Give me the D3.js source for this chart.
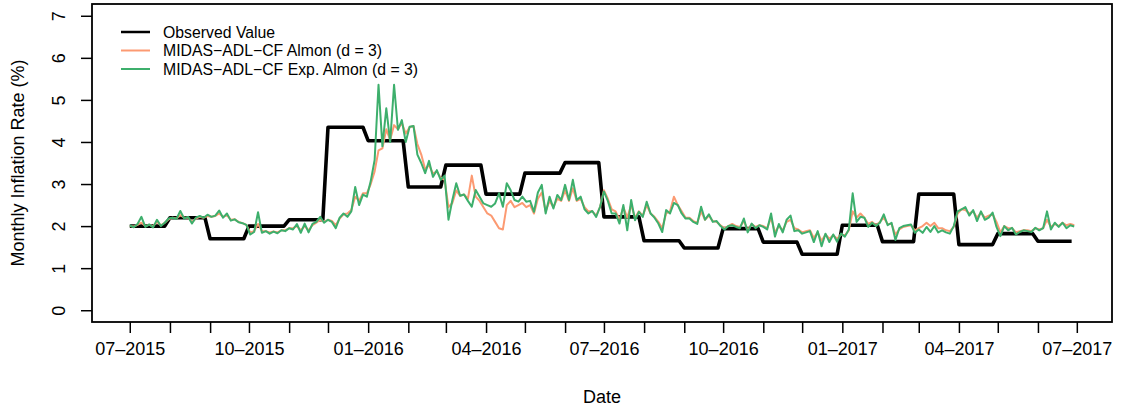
<!DOCTYPE html>
<html><head><meta charset="utf-8">
<script src="https://cdn.jsdelivr.net/npm/d3@7"></script>
<style>
body{margin:0;background:#fff}
svg{display:block}
text{font-family:"Liberation Sans",Arial,Helvetica,sans-serif;fill:#000}
</style>
</head><body>
<svg id="chart" width="1121" height="412"></svg>
<script>
// ---------------- DATA ----------------
const seriesNames = ["Observed Value", "MIDAS\u2212ADL\u2212CF Almon (d = 3)", "MIDAS\u2212ADL\u2212CF Exp. Almon (d = 3)"];
const seriesColors = ["#000000", "#FC9A72", "#3DAF6C"];
const startDate = "2015-07-01";
const forecastStepDays = 3;
// monthly observed inflation, Jul 2015 .. Jun 2017
const observedMonthly = [2.0, 2.2, 1.7, 2.0, 2.15, 4.35, 4.03, 2.93, 3.45, 2.76, 3.26, 3.51,
                         2.22, 1.65, 1.48, 1.94, 1.62, 1.33, 2.02, 1.63, 2.76, 1.56, 1.82, 1.64];
const almonValues = [
 2.0,1.99,2.03,2.08,2.0,2.03,2.0,2.1,2.02,2.08,2.16,2.2,2.18,2.26,2.2,2.2,2.1,2.18,2.22,2.2,2.24,2.22,2.24,2.3,2.22,2.26,2.15,2.16,2.1,2.07,2.03,
 1.85,1.88,2.05,1.88,1.88,1.85,1.87,1.85,1.9,1.9,1.95,1.95,2.0,1.9,2.0,1.9,2.02,2.08,2.15,2.1,2.15,2.12,2.02,2.18,2.28,2.3,2.38,2.7,2.6,2.78,
 2.78,3.0,3.3,3.8,3.85,4.3,4.05,4.4,4.3,4.45,4.2,4.35,4.38,3.95,3.7,3.35,3.45,3.25,3.3,3.15,3.1,2.45,2.55,2.85,2.72,2.75,2.65,3.2,2.7,2.6,
 2.45,2.3,2.25,2.1,1.95,1.92,2.5,2.6,2.45,2.5,2.55,2.45,2.5,2.3,2.65,2.8,2.35,2.6,2.45,2.65,2.6,2.85,2.6,2.9,2.6,2.65,2.45,2.35,2.35,2.25,
 2.45,2.85,2.65,2.4,2.35,2.15,2.45,2.2,2.5,2.2,2.35,2.25,2.5,2.3,2.22,2.1,1.95,2.3,2.35,2.7,2.5,2.35,2.2,2.2,2.12,2.08,2.35,2.15,2.25,2.12,
 2.1,2.02,1.95,2.0,2.05,2.0,1.98,2.12,1.9,2.05,1.98,2.02,2.0,1.95,2.2,1.85,2.0,1.9,2.1,2.15,1.95,1.92,1.85,1.88,1.9,1.72,1.85,1.65,1.8,1.7,
 1.78,1.7,1.8,1.78,1.9,2.35,2.2,2.3,2.2,2.05,2.1,2.02,2.1,2.2,2.05,2.05,1.8,1.92,1.98,2.0,2.02,1.9,1.95,2.0,2.08,2.0,2.08,1.95,1.95,1.9,
 1.88,1.98,2.3,2.4,2.38,2.3,2.35,2.2,2.32,2.2,2.25,2.28,2.1,1.85,2.0,1.95,1.95,1.85,1.88,1.9,1.9,1.88,1.95,1.92,1.95,2.15,1.98,2.05,2.0,2.08,2.02,2.05,2.02
];
const expAlmonValues = [
 2.02,1.97,2.05,2.22,1.98,2.04,1.97,2.15,2.0,2.08,2.18,2.2,2.17,2.36,2.18,2.22,2.06,2.2,2.24,2.2,2.27,2.22,2.25,2.37,2.2,2.3,2.13,2.16,2.09,2.07,2.03,
 1.8,1.86,2.33,1.84,1.88,1.82,1.87,1.83,1.9,1.88,1.95,1.92,2.05,1.84,2.06,1.85,2.05,2.1,2.22,2.08,2.15,2.1,1.95,2.2,2.3,2.22,2.35,2.93,2.5,2.75,
 2.7,3.07,3.57,5.36,3.9,4.8,4.0,5.36,4.29,4.52,4.0,4.36,4.38,3.7,3.5,3.26,3.55,3.17,3.33,3.1,3.2,2.15,2.62,3.02,2.72,2.75,2.6,2.46,2.86,2.7,
 2.54,2.5,2.46,2.54,2.78,2.46,3.02,2.85,2.62,2.58,2.7,2.58,2.6,2.34,2.8,2.98,2.3,2.7,2.42,2.74,2.62,2.98,2.62,3.1,2.62,2.7,2.4,2.3,2.36,2.22,
 2.46,2.82,2.6,2.3,2.3,2.06,2.5,1.9,2.62,2.14,2.34,2.22,2.58,2.3,2.2,2.06,1.86,2.38,2.3,2.55,2.5,2.3,2.18,2.18,2.1,2.05,2.46,2.15,2.28,2.1,
 2.12,2.0,1.92,2.0,2.02,1.98,1.95,2.18,1.85,2.06,1.95,2.02,1.98,1.92,2.3,1.75,2.05,1.85,2.15,2.25,1.88,1.9,1.82,1.85,1.88,1.62,1.88,1.52,1.82,1.62,
 1.8,1.63,1.82,1.75,1.92,2.78,2.1,2.22,2.2,1.98,2.08,2.0,2.08,2.28,2.02,2.08,1.67,1.95,2.0,2.02,2.04,1.84,1.92,1.84,1.98,1.86,2.0,1.85,1.9,1.85,
 1.82,2.0,2.35,2.4,2.45,2.25,2.38,2.12,2.35,2.15,2.2,2.32,1.98,1.76,2.0,1.9,1.96,1.8,1.86,1.9,1.88,1.86,1.96,1.9,1.95,2.35,1.92,2.08,1.98,2.08,1.95,2.02,1.99
];
const yTickValues = [0, 1, 2, 3, 4, 5, 6, 7];
const xTickStart = "2015-07-01", xTickEnd = "2017-07-01";
const xAxisTitle = "Date";
const yAxisTitle = "Monthly Inflation Rate (%)";

// ---------------- LAYOUT ----------------
const box = {left: 92, right: 1112, top: 4, bottom: 322};
const parse = d3.utcParse("%Y-%m-%d");
const t0 = parse(startDate);

const almonPts = almonValues.map((v, i) => [d3.utcDay.offset(t0, i * forecastStepDays), v]);
const expPts = expAlmonValues.map((v, i) => [d3.utcDay.offset(t0, i * forecastStepDays), v]);
const lastDate = expPts[expPts.length - 1][0];

const months = d3.utcMonth.range(t0, d3.utcMonth.offset(t0, observedMonthly.length));
const obsPts = [];
observedMonthly.forEach((v, i) => {
  const s = months[i];
  let e = d3.utcDay.offset(d3.utcMonth.offset(s, 1), -4);
  if (e > lastDate) e = lastDate;
  obsPts.push([s, v], [e, v]);
});

// R-style 4% axis extension
const dMin = t0.getTime(), dMax = lastDate.getTime();
const ext = (dMax - dMin) * 0.04;
const x = d3.scaleUtc().domain([new Date(dMin - ext), new Date(dMax + ext)]).range([box.left, box.right]);
const y = d3.scaleLinear().domain([-0.28, 7.28]).range([box.bottom, box.top]);

const svg = d3.select("#chart");
const line = d3.line().x(d => x(d[0])).y(d => y(d[1]));

const plot = svg.append("g");
plot.append("path").datum(obsPts).attr("d", line).attr("fill", "none")
  .attr("stroke", seriesColors[0]).attr("stroke-width", 3.6).attr("stroke-linejoin", "round");
plot.append("path").datum(almonPts).attr("d", line).attr("fill", "none")
  .attr("stroke", seriesColors[1]).attr("stroke-width", 2).attr("stroke-linejoin", "round");
plot.append("path").datum(expPts).attr("d", line).attr("fill", "none")
  .attr("stroke", seriesColors[2]).attr("stroke-width", 2).attr("stroke-linejoin", "round");

// box
svg.append("rect").attr("x", box.left).attr("y", box.top)
  .attr("width", box.right - box.left).attr("height", box.bottom - box.top)
  .attr("fill", "none").attr("stroke", "#000").attr("stroke-width", 1.8);

// x axis
const monthTicks = d3.utcMonth.range(parse(xTickStart), d3.utcDay.offset(parse(xTickEnd), 1));
const fmt = d3.utcFormat("%m\u2013%Y");
const xAxis = d3.axisBottom(x).tickValues(monthTicks).tickSize(11).tickPadding(9)
  .tickFormat(d => (d.getUTCMonth() % 3 === 0) ? fmt(d) : "");
const gx = svg.append("g").attr("transform", `translate(0,${box.bottom})`).call(xAxis);
gx.select(".domain").remove();
gx.selectAll(".tick line").attr("stroke", "#000").attr("stroke-width", 1.5);
gx.selectAll(".tick text").attr("font-size", 18).attr("font-family", null).attr("fill", "#000");

// y axis
const yAxis = d3.axisLeft(y).tickValues(yTickValues).tickSize(11);
const gy = svg.append("g").attr("transform", `translate(${box.left},0)`).call(yAxis);
gy.select(".domain").remove();
gy.selectAll(".tick line").attr("stroke", "#000").attr("stroke-width", 1.5);
gy.selectAll(".tick text").attr("font-size", 18).attr("font-family", null).attr("fill", "#000")
  .attr("transform", "rotate(-90)").attr("x", 0).attr("y", -27).attr("dy", null)
  .attr("text-anchor", "middle");

// axis titles
svg.append("text").attr("x", (box.left + box.right) / 2).attr("y", 403)
  .attr("text-anchor", "middle").attr("font-size", 18).text(xAxisTitle);
svg.append("text").attr("transform", `translate(24,${(box.top + box.bottom) / 2}) rotate(-90)`)
  .attr("text-anchor", "middle").attr("font-size", 18).text(yAxisTitle);

// legend
const lg = svg.append("g");
seriesNames.forEach((n, i) => {
  const cy = 32 + i * 18.5;
  lg.append("line").attr("x1", 121).attr("x2", 150).attr("y1", cy).attr("y2", cy)
    .attr("stroke", seriesColors[i]).attr("stroke-width", i === 0 ? 2.5 : 2);
  lg.append("text").attr("x", 163).attr("y", cy + 5.5).attr("font-size", 15.8).text(n);
});
</script>
</body></html>
